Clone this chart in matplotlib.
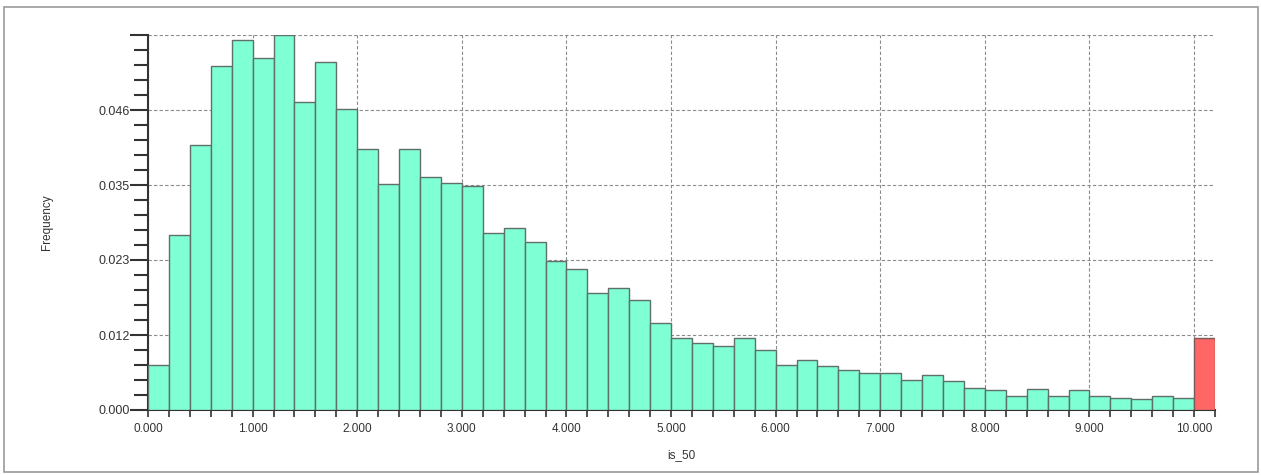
import numpy as np
import matplotlib
matplotlib.use("Agg")
import matplotlib.pyplot as plt
from matplotlib.patches import Rectangle

plt.rcParams['font.family'] = ['Liberation Sans', 'DejaVu Sans']

# histogram of is_50, bins of 0.2 from 0 to 10, plus overflow bin
bin_width = 0.2
freq = [0.0069, 0.0269, 0.0406, 0.0527, 0.0567, 0.0539, 0.0575, 0.0472, 0.0533, 0.0462,
        0.0400, 0.0346, 0.0400, 0.0358, 0.0348, 0.0343, 0.0271, 0.0279, 0.0257, 0.0228,
        0.0216, 0.0179, 0.0187, 0.0168, 0.0134, 0.0110, 0.0102, 0.0098, 0.0110, 0.0092,
        0.0069, 0.0076, 0.0067, 0.0061, 0.0056, 0.0056, 0.0046, 0.0054, 0.0044, 0.0033,
        0.0030, 0.0021, 0.0032, 0.0021, 0.0030, 0.0021, 0.0019, 0.0017, 0.0021, 0.0019]
overflow_start = 10.0
overflow_freq = 0.0110

y_ticks = [0, 0.0115, 0.023, 0.0345, 0.046, 0.0575]
y_labels = ['0.000', '0.012', '0.023', '0.035', '0.046', '']
x_ticks = [0, 1, 2, 3, 4, 5, 6, 7, 8, 9, 10]
x_labels = ['0.000', '1.000', '2.000', '3.000', '4.000', '5.000',
            '6.000', '7.000', '8.000', '9.000', '10.000']

fig = plt.figure(figsize=(12.61, 4.75), dpi=100)
ax = fig.add_axes([148/1261, 65/475, 1067/1261, 375/475])

lefts = np.arange(len(freq)) * bin_width
ax.bar(lefts, freq, width=bin_width, align='edge', color='#7fffd4',
       edgecolor='#5f6f6a', linewidth=1.0, zorder=3)
ax.bar([overflow_start], [overflow_freq], width=bin_width, align='edge',
       color='#ff6666', edgecolor='#7a5a5a', linewidth=1.0, zorder=3)

ax.set_xlim(0, 10.2)
ax.set_ylim(0, 0.0575)

ax.set_xticks(x_ticks)
ax.set_xticklabels(x_labels, fontsize=8.5, color='#333333')
ax.set_xticks(np.arange(0, 10.21, 0.2), minor=True)
ax.set_yticks(y_ticks)
ax.set_yticklabels(y_labels, fontsize=9, color='#333333')
ax.set_yticks(np.arange(0, 0.0576, 0.0023), minor=True)

ax.tick_params(axis='x', which='both', length=5, width=1.2, color='#333333', pad=4)
ax.tick_params(axis='y', which='major', length=13, width=1.5, color='#333333', pad=0)
ax.tick_params(axis='y', which='minor', length=10, width=1.5, color='#333333')

ax.grid(True, which='major', color='#8a8a8a', linestyle=(0, (3, 2)), linewidth=0.8, zorder=0)

for s in ['top', 'right']:
    ax.spines[s].set_visible(False)
ax.spines['left'].set_color('#333333')
ax.spines['left'].set_linewidth(1.5)
ax.spines['bottom'].set_color('#333333')
ax.spines['bottom'].set_linewidth(1.5)

ax.set_xlabel('is_50', fontsize=8.5, color='#333333')
ax.set_ylabel('Frequency', fontsize=8.5, color='#333333')
ax.xaxis.set_label_coords(0.5, -45/375, transform=ax.transAxes)
ax.yaxis.set_label_coords(-101/1067, 0.5, transform=ax.transAxes)
ax.xaxis.label.set_verticalalignment('center')
ax.yaxis.label.set_verticalalignment('center')

# outer frame
fig.patches.append(Rectangle((4/1261, 3/475), 1254/1261, 465/475, transform=fig.transFigure,
                             fill=False, edgecolor='#9a9a9a', linewidth=1.2))

fig.savefig('out.png', dpi=100)
